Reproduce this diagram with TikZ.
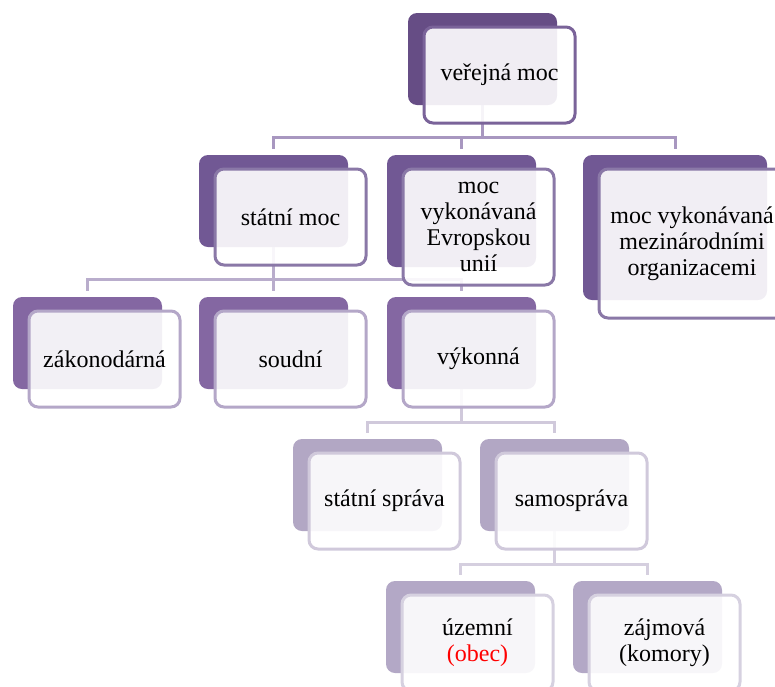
\documentclass[tikz,border=0pt]{standalone}
\usepackage{fontspec}
\setmainfont{Liberation Serif}
\usetikzlibrary{backgrounds}
\definecolor{bkA}{HTML}{664D85}\definecolor{brA}{HTML}{7A6399}
\definecolor{bkB}{HTML}{715894}\definecolor{brB}{HTML}{8A78A7}
\definecolor{bkC}{HTML}{8467A2}\definecolor{brC}{HTML}{B4A7C8}
\definecolor{bkD}{HTML}{B2A7C4}\definecolor{brD}{HTML}{D0C9DB}
\definecolor{bkE}{HTML}{B3A8C6}\definecolor{brE}{HTML}{D6D1E0}
\definecolor{cnA}{HTML}{A897C0}\definecolor{cnB}{HTML}{B9ADCC}
\definecolor{cnC}{HTML}{D0C9DB}\definecolor{cnD}{HTML}{D5CFDF}
\definecolor{redtxt}{HTML}{FF0000}
\tikzset{
  backbox/.style={rectangle, rounded corners=9pt, inner sep=0pt, outer sep=0pt, draw=none},
  frontbox/.style={rectangle, rounded corners=9pt, inner sep=0pt, outer sep=0pt, line width=3pt,
     fill=white, fill opacity=0.9, text opacity=1, align=center,
     font=\fontsize{24}{26}\selectfont},
  conn/.style={line width=3pt},
}
% \elem{name}{bx}{by}{bw}{bh}{back colour}{border colour}{text}
\newcommand\elem[8]{%
  \node[backbox, fill=#6, minimum width={#4}, minimum height={#5}]
     (#1-b) at ({#2+#4/2}, {-(#3+#5/2)}) {};
  \node[frontbox, draw=#7, minimum width={#4+2}, minimum height={#5+4}]
     (#1) at ({#2+17+#4/2}, {-(#3+16+#5/2)}) {#8};
}
\begin{document}
\begin{tikzpicture}[x=1pt,y=1pt]
\useasboundingbox (0,0) rectangle (775,-686);
\clip (0,0) rectangle (775,-686);
\elem{vm}{408}{13}{149}{92}{bkA}{brA}{veřejná moc}
\elem{sm}{199}{155}{149}{92}{bkB}{brB}{státní moc}
\elem{eu}{387}{155}{149}{112}{bkB}{brB}{moc\\vykonávaná\\Evropskou\\unií}
\elem{im}{583}{155}{184}{145}{bkB}{brB}{moc vykonávaná\\mezinárodními\\organizacemi}
\elem{zak}{13}{297}{149}{92}{bkC}{brC}{zákonodárná}
\elem{sou}{199}{297}{149}{92}{bkC}{brC}{soudní}
\elem{vyk}{387}{297}{149}{92}{bkC}{brC}{výkonná}
\elem{ss}{293}{439}{149}{92}{bkD}{brD}{státní správa}
\elem{samo}{480}{439}{149}{92}{bkD}{brD}{samospráva}
\elem{uz}{386}{581}{149}{92}{bkE}{brE}{územní\\{\color{redtxt}(obec)}}
\elem{zaj}{573}{581}{149}{92}{bkE}{brE}{zájmová\\(komory)}
\begin{scope}[on background layer]
\foreach \c in {sm,eu,im}
  \draw[conn, draw=cnA] (vm-b.south) -- ++(0,-32) -| ([yshift=6pt]\c-b.north);
\foreach \c in {zak,sou,vyk}
  \draw[conn, draw=cnB] (sm-b.south) -- ++(0,-32) -| ([yshift=6pt]\c-b.north);
\foreach \c in {ss,samo}
  \draw[conn, draw=cnC] (vyk-b.south) -- ++(0,-33) -| ([yshift=6pt]\c-b.north);
\foreach \c in {uz,zaj}
  \draw[conn, draw=cnD] (samo-b.south) -- ++(0,-33) -| ([yshift=6pt]\c-b.north);
\end{scope}
\end{tikzpicture}
\end{document}
